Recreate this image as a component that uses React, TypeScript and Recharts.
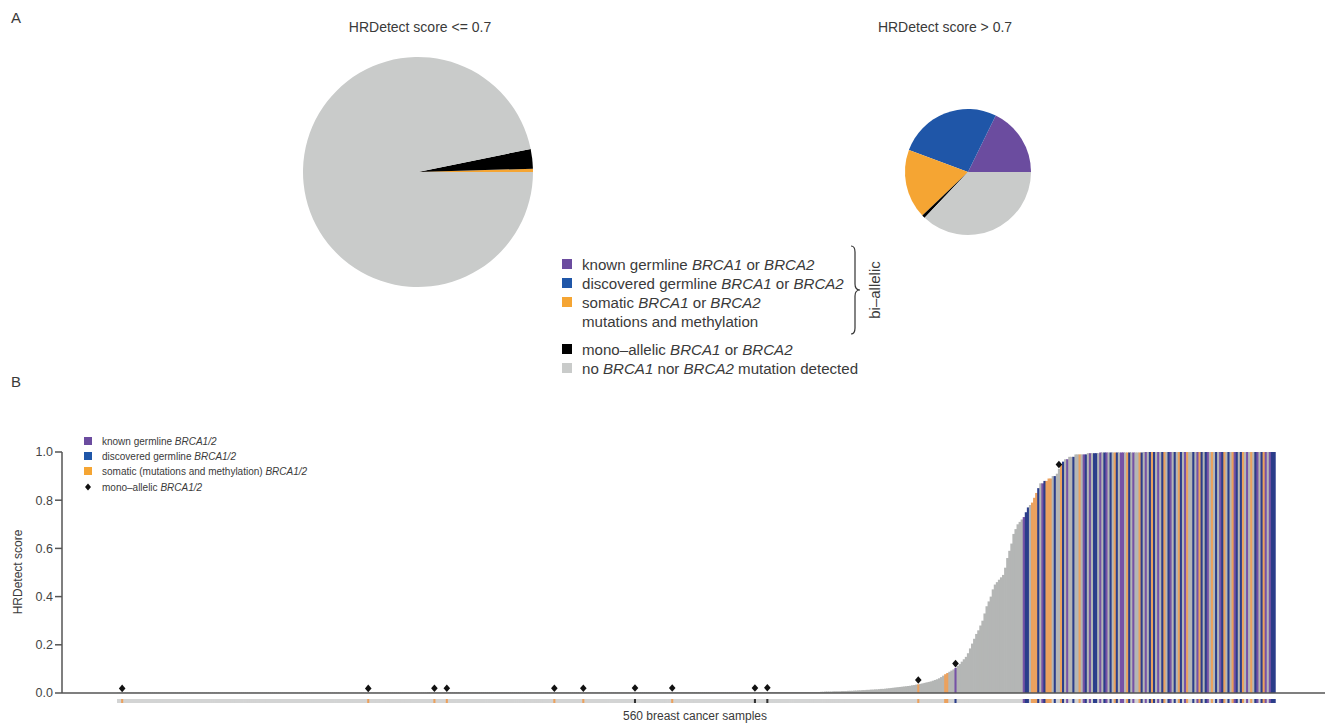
import { PieChart, Pie, Cell, ComposedChart, BarChart, Bar, Scatter, XAxis, YAxis, ReferenceLine } from "recharts";

// order of slices / categories: known germline, discovered germline, somatic, mono-allelic, none
const pieColors = ["#6b4c9f", "#1f56a8", "#f5a533", "#000000", "#c9cbca"];
const lowPieCounts = [0, 0, 2, 12, 422]; // HRDetect score <= 0.7
const highPieCounts = [22, 33, 22, 1, 46]; // HRDetect score > 0.7

const barColors: Record<string, string> = {
  p: "#7652a6",
  b: "#2b3d8a",
  o: "#eba15e",
  g: "#b4b6b5",
  k: "#333333",
};
const stripBase = "#d3d4d4";

// sorted HRDetect scores, 560 samples
const lowFlatRuns: [number, number][] = [
  [0.001, 150],
  [0.002, 100],
  [0.003, 60],
  [0.004, 30],
];
const risingScores = [
  0.005, 0.005, 0.006, 0.006, 0.006, 0.006, 0.007, 0.007, 0.007, 0.007,
  0.008, 0.008, 0.008, 0.009, 0.009, 0.009, 0.01, 0.01, 0.011, 0.011,
  0.012, 0.012, 0.013, 0.013, 0.014, 0.014, 0.015, 0.015, 0.016, 0.017,
  0.017, 0.018, 0.019, 0.02, 0.021, 0.022, 0.023, 0.024, 0.025, 0.026,
  0.027, 0.028, 0.029, 0.03, 0.032, 0.033, 0.035, 0.036, 0.038, 0.04,
  0.042, 0.044, 0.046, 0.048, 0.051, 0.054, 0.057, 0.061, 0.066, 0.072,
  0.078, 0.083, 0.088, 0.093, 0.098, 0.104, 0.112, 0.12, 0.13, 0.14,
  0.15, 0.165, 0.185, 0.205, 0.225, 0.245, 0.26, 0.28, 0.3, 0.33,
  0.36, 0.38, 0.4, 0.43, 0.45, 0.46, 0.47, 0.48, 0.49, 0.52,
  0.56, 0.59, 0.62, 0.66, 0.68, 0.7,
  0.71, 0.72, 0.73, 0.75, 0.77, 0.78, 0.79, 0.81, 0.83, 0.85,
  0.87, 0.87, 0.88, 0.88, 0.89, 0.89, 0.9, 0.9, 0.91, 0.93,
  0.95, 0.96, 0.97, 0.97, 0.98, 0.98, 0.98, 0.99, 0.99, 0.99,
  0.99, 0.99, 0.99, 0.995, 0.995, 0.995, 0.995, 0.995, 0.995, 0.998,
];
const topRuns: [number, number][] = [
  [0.998, 20],
  [1.0, 64],
];

// bar categories: low-score samples are grey except these
const lowColoredBars: [number, string][] = [
  [387, "o"],
  [400, "o"],
  [401, "o"],
  [405, "p"],
];
// samples 436..559
const highCats =
  "ggpbbgooob" + "gpbooogbgg" + "obgpggbggo" + "gpbgpgbbgp" + "gbpgbgobgp" +
  "pgobgpggob" + "gpgbobgpgb" + "ogbpgbgobg" + "poggbgpobg" + "bpgogbgpbo" +
  "gbgopbgbog" + "pgogbpgbop" + "gpbb";

const monoIdx = [2, 121, 153, 159, 211, 225, 250, 268, 308, 314, 387, 405, 455];

const stripLowMarks: [number, string][] = [
  [2, "o"], [121, "o"], [153, "o"], [159, "o"], [211, "o"], [225, "o"],
  [250, "k"], [268, "o"], [308, "k"], [314, "k"], [387, "o"], [400, "o"],
  [401, "o"], [405, "b"],
];

const yTicks = [0, 0.2, 0.4, 0.6, 0.8, 1.0];

const scores: number[] = [];
lowFlatRuns.forEach(([v, n]) => { for (let k = 0; k < n; k++) scores.push(v); });
risingScores.forEach((v) => scores.push(v));
topRuns.forEach(([v, n]) => { for (let k = 0; k < n; k++) scores.push(v); });

const lowCount = 436;
const data = scores.map((score, i) => {
  let cat = "g";
  if (i >= lowCount) cat = highCats[i - lowCount] || "g";
  const lc = lowColoredBars.find((d) => d[0] === i);
  if (lc) cat = lc[1];
  let strip = stripBase;
  const sm = stripLowMarks.find((d) => d[0] === i);
  if (sm) strip = barColors[sm[1]];
  else if (i >= lowCount && cat !== "g") strip = barColors[cat];
  return {
    i,
    score,
    cat,
    strip,
    stripV: 1,
    mono: monoIdx.includes(i) ? score + 0.018 : null,
  };
});

const lowPie = lowPieCounts.map((v, k) => ({ v, k })).filter((d) => d.v > 0);
const highPie = highPieCounts.map((v, k) => ({ v, k })).filter((d) => d.v > 0);

const font = "'Liberation Sans', Arial, Helvetica, sans-serif";
const txt = "#3a3a3a";

const Diamond = (props: any) => {
  const { cx, cy, payload } = props;
  if (payload == null || payload.mono == null || !isFinite(cx) || !isFinite(cy)) return null;
  return <path d={`M${cx},${cy - 3.8}L${cx + 3.3},${cy}L${cx},${cy + 3.8}L${cx - 3.3},${cy}Z`} fill="#111" />;
};

// bars are ~2px wide; widen a touch so neighbours overlap and no seams show
const ScoreBar = (props: any) => {
  const { x, y, width, height, payload } = props;
  if (!isFinite(x) || !isFinite(y) || height <= 0) return null;
  return <rect x={x} y={y} width={width + 0.8} height={height} fill={barColors[payload.cat]} />;
};
const StripBar = (props: any) => {
  const { x, y, width, height, payload } = props;
  if (!isFinite(x) || !isFinite(y)) return null;
  return <rect x={x} y={y} width={width + 0.8} height={height} fill={payload.strip} />;
};

const I = ({ children }: any) => <span style={{ fontStyle: "italic" }}>{children}</span>;

const legendA: { y: number; color?: string; label: any }[] = [
  { y: 264, color: pieColors[0], label: <>known germline <I>BRCA1</I> or <I>BRCA2</I></> },
  { y: 283, color: pieColors[1], label: <>discovered germline <I>BRCA1</I> or <I>BRCA2</I></> },
  { y: 302, color: pieColors[2], label: <>somatic <I>BRCA1</I> or <I>BRCA2</I></> },
  { y: 321, label: <>mutations and methylation</> },
  { y: 349, color: pieColors[3], label: <>mono–allelic <I>BRCA1</I> or <I>BRCA2</I></> },
  { y: 368, color: pieColors[4], label: <>no <I>BRCA1</I> nor <I>BRCA2</I> mutation detected</> },
];

const legendB: { y: number; color?: string; label: any }[] = [
  { y: 441, color: "#6b4c9f", label: <>known germline <I>BRCA1/2</I></> },
  { y: 456, color: "#1f56a8", label: <>discovered germline <I>BRCA1/2</I></> },
  { y: 471, color: "#f5a533", label: <>somatic (mutations and methylation) <I>BRCA1/2</I></> },
  { y: 487, label: <>mono–allelic <I>BRCA1/2</I></> },
];

export default function App() {
  return (
    <div style={{ position: "absolute", left: 0, top: 0, width: 1331, height: 728, background: "#fff", fontFamily: font, color: txt, overflow: "hidden" }}>
      <div style={{ position: "absolute", left: 11, top: 9, fontSize: 15 }}>A</div>
      <div style={{ position: "absolute", left: 11, top: 373, fontSize: 15 }}>B</div>

      <div style={{ position: "absolute", left: 270, top: 19, width: 300, textAlign: "center", fontSize: 14 }}>HRDetect score &lt;= 0.7</div>
      <div style={{ position: "absolute", left: 795, top: 19, width: 300, textAlign: "center", fontSize: 14 }}>HRDetect score &gt; 0.7</div>

      <div style={{ position: "absolute", left: 268, top: 22 }}>
        <PieChart width={300} height={300} margin={{ top: 0, right: 0, bottom: 0, left: 0 }}>
          <Pie data={lowPie} dataKey="v" cx={150} cy={150} outerRadius={115} startAngle={0} endAngle={360} stroke="none" isAnimationActive={false}>
            {lowPie.map((d) => <Cell key={d.k} fill={pieColors[d.k]} />)}
          </Pie>
        </PieChart>
      </div>
      <div style={{ position: "absolute", left: 868, top: 72 }}>
        <PieChart width={200} height={200} margin={{ top: 0, right: 0, bottom: 0, left: 0 }}>
          <Pie data={highPie} dataKey="v" cx={100} cy={100} outerRadius={63} startAngle={0} endAngle={360} stroke="none" isAnimationActive={false}>
            {highPie.map((d) => <Cell key={d.k} fill={pieColors[d.k]} />)}
          </Pie>
        </PieChart>
      </div>

      {legendA.map((r, k) => (
        <div key={k} style={{ position: "absolute", left: 562, top: r.y - 10, height: 20, display: "flex", alignItems: "center", fontSize: 15.1, whiteSpace: "nowrap" }}>
          <div style={{ width: 10, height: 10, background: r.color || "transparent", marginRight: 10 }} />
          <span>{r.label}</span>
        </div>
      ))}
      <svg style={{ position: "absolute", left: 843, top: 244 }} width={30} height={92}>
        <path d="M8,2 Q12,2 12,8 L12,40 Q12,46 17,46 Q12,46 12,52 L12,84 Q12,90 8,90" fill="none" stroke="#333" strokeWidth={1.2} />
      </svg>
      <div style={{ position: "absolute", left: 874, top: 290, transform: "translate(-50%,-50%) rotate(-90deg)", fontSize: 15, whiteSpace: "nowrap" }}>bi–allelic</div>

      {legendB.map((r, k) => (
        <div key={k} style={{ position: "absolute", left: 84, top: r.y - 8, height: 16, display: "flex", alignItems: "center", fontSize: 10, whiteSpace: "nowrap" }}>
          {r.color ? (
            <div style={{ width: 8, height: 8, background: r.color, marginRight: 10 }} />
          ) : (
            <svg width={8} height={8} style={{ marginRight: 10 }}><path d="M4,0.5L7,4L4,7.5L1,4Z" fill="#111" /></svg>
          )}
          <span>{r.label}</span>
        </div>
      ))}

      <div style={{ position: "absolute", left: 18, top: 572, transform: "translate(-50%,-50%) rotate(-90deg)", fontSize: 12, whiteSpace: "nowrap" }}>HRDetect score</div>
      <div style={{ position: "absolute", left: 545, top: 709, width: 300, textAlign: "center", fontSize: 12 }}>560 breast cancer samples</div>

      <div style={{ position: "absolute", left: 0, top: 440 }}>
        <ComposedChart width={1331} height={270} data={data} margin={{ top: 12, right: 6, bottom: 17, left: 0 }} barCategoryGap={0} barGap={0}>
          <XAxis dataKey="i" hide padding={{ left: 55, right: 50 }} />
          <YAxis
            domain={[0, 1]}
            ticks={yTicks}
            width={62}
            tickFormatter={(v: number) => v.toFixed(1)}
            axisLine={{ stroke: "#555", strokeWidth: 1.5 }}
            tickLine={{ stroke: "#555", strokeWidth: 1.5 }}
            tickSize={7}
            tick={{ fill: "#444", fontSize: 12.5, fontFamily: font }}
          />
          <Bar dataKey="score" shape={<ScoreBar />} isAnimationActive={false} />
          <ReferenceLine y={0} stroke="#555" strokeWidth={1.5} />
          <Scatter dataKey="mono" shape={<Diamond />} isAnimationActive={false} />
        </ComposedChart>
      </div>

      <div style={{ position: "absolute", left: 0, top: 699 }}>
        <BarChart width={1331} height={4} data={data} margin={{ top: 0, right: 6, bottom: 0, left: 62 }} barCategoryGap={0} barGap={0}>
          <XAxis dataKey="i" hide padding={{ left: 55, right: 50 }} />
          <YAxis hide domain={[0, 1]} />
          <Bar dataKey="stripV" shape={<StripBar />} isAnimationActive={false} />
        </BarChart>
      </div>
    </div>
  );
}
